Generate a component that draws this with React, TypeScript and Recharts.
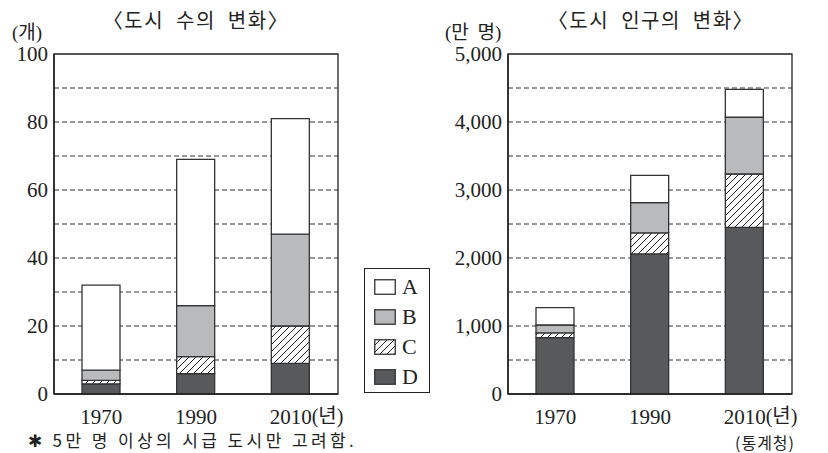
import { BarChart, Bar, XAxis, YAxis, CartesianGrid, ReferenceArea } from 'recharts'

const years = ['1970', '1990', '2010']

// 도시 수 (개)
const countA = [25, 43, 34]
const countB = [3, 15, 27]
const countC = [1, 5, 11]
const countD = [3, 6, 9]

// 도시 인구 (만 명)
const popA = [255, 400, 410]
const popB = [115, 445, 835]
const popC = [70, 310, 785]
const popD = [830, 2060, 2450]

const countTicks = [0, 20, 40, 60, 80, 100]
const countGrid = [10, 20, 30, 40, 50, 60, 70, 80, 90]
const popTicks = [0, 1000, 2000, 3000, 4000, 5000]
const popGrid = [500, 1000, 1500, 2000, 2500, 3000, 3500, 4000, 4500]

const legendKeys = ['A', 'B', 'C', 'D']

const fills: Record<string, string> = {
    A: '#ffffff',
    B: '#b9babb',
    C: 'url(#hatch)',
    D: '#58595b',
}

const countData = years.map((y, i) => ({ year: y, A: countA[i], B: countB[i], C: countC[i], D: countD[i] }))
const popData = years.map((y, i) => ({ year: y, A: popA[i], B: popB[i], C: popC[i], D: popD[i] }))

const ink = '#222'
const serif = '"Liberation Serif", "Noto Sans CJK KR", serif'
const sans = '"Noto Sans CJK KR", "Noto Sans", sans-serif'

function YearTick(props: any) {
    const { x, y, payload } = props
    const last = payload.value === years[years.length - 1]
    return (
        <g>
            <text x={x} y={y + 15} textAnchor="middle" dominantBaseline="central" fontFamily={serif} fontSize={21} fill={ink}>
                {payload.value}
            </text>
            {last && (
                <text x={x + 21} y={y + 14} textAnchor="start" dominantBaseline="central" fontFamily={serif} fontSize={20} fill={ink}>
                    (년)
                </text>
            )}
        </g>
    )
}

function stackBars() {
    return ['D', 'C', 'B', 'A'].map((k) => (
        <Bar key={k} dataKey={k} stackId="s" fill={fills[k]} stroke="#333" strokeWidth={1.3} barSize={38} isAnimationActive={false} />
    ))
}

const titleStyle = {
    position: 'absolute' as const,
    top: 9,
    width: 260,
    textAlign: 'center' as const,
    fontFamily: sans,
    fontSize: 20,
    lineHeight: '22px',
    letterSpacing: 1.5,
    wordSpacing: 6,
    whiteSpace: 'nowrap' as const,
}

export default function App() {
    return (
        <div style={{ position: 'absolute', left: 0, top: 0, width: 828, height: 453, background: '#fff', color: ink }}>
            <svg width={0} height={0} style={{ position: 'absolute' }}>
                <defs>
                    <pattern id="hatch" patternUnits="userSpaceOnUse" width={7} height={7}>
                        <rect width={7} height={7} fill="#fff" />
                        <path d="M0,7 L7,0 M-1,1 L1,-1 M6,8 L8,6" stroke="#222" strokeWidth={1} />
                    </pattern>
                </defs>
            </svg>

            <div style={{ ...titleStyle, left: 66 }}>〈도시 수의 변화〉</div>
            <div style={{ ...titleStyle, left: 521 }}>〈도시 인구의 변화〉</div>
            <div style={{ position: 'absolute', left: 12, top: 23, fontFamily: serif, fontSize: 19, lineHeight: '20px' }}>(개)</div>
            <div style={{ position: 'absolute', left: 445, top: 23, fontFamily: serif, fontSize: 19, lineHeight: '20px', wordSpacing: 4 }}>(만 명)</div>

            <div style={{ position: 'absolute', left: 0, top: 0 }}>
                <BarChart width={360} height={453} data={countData} margin={{ top: 54, right: 22, bottom: 29, left: 4 }}>
                    <CartesianGrid vertical={false} horizontalValues={countGrid} stroke="#333" strokeDasharray="5 3" />
                    <XAxis dataKey="year" height={30} tickLine={false} axisLine={{ stroke: ink, strokeWidth: 1.5 }} tick={<YearTick />} interval={0} />
                    <YAxis
                        width={50}
                        domain={[0, 100]}
                        ticks={countTicks}
                        tickLine={false}
                        axisLine={{ stroke: ink, strokeWidth: 1.5 }}
                        tick={{ fontFamily: serif, fontSize: 21, fill: ink }}
                        tickSize={4}
                    />
                    <ReferenceArea y1={0} y2={100} fill="none" stroke={ink} strokeWidth={1.3} />
                    {stackBars()}
                </BarChart>
            </div>

            <div style={{ position: 'absolute', left: 360, top: 0 }}>
                <BarChart width={468} height={453} data={popData} margin={{ top: 54, right: 36, bottom: 29, left: 78 }}>
                    <CartesianGrid vertical={false} horizontalValues={popGrid} stroke="#333" strokeDasharray="5 3" />
                    <XAxis dataKey="year" height={30} tickLine={false} axisLine={{ stroke: ink, strokeWidth: 1.5 }} tick={<YearTick />} interval={0} />
                    <YAxis
                        width={70}
                        domain={[0, 5000]}
                        ticks={popTicks}
                        tickLine={false}
                        axisLine={{ stroke: ink, strokeWidth: 1.5 }}
                        tick={{ fontFamily: serif, fontSize: 21, fill: ink }}
                        tickSize={4}
                        tickFormatter={(v) => v.toLocaleString('en-US')}
                    />
                    <ReferenceArea y1={0} y2={5000} fill="none" stroke={ink} strokeWidth={1.3} />
                    {stackBars()}
                </BarChart>
            </div>

            <div style={{ position: 'absolute', left: 364, top: 268, width: 64, height: 123, border: `1.5px solid ${ink}` }}>
                {legendKeys.map((k, i) => (
                    <div key={k} style={{ position: 'absolute', left: 9, top: 9 + i * 30, height: 18, display: 'flex', alignItems: 'center' }}>
                        <svg width={22} height={16}>
                            <rect x={0.75} y={0.75} width={20.5} height={14.5} fill={fills[k]} stroke="#333" strokeWidth={1.3} />
                        </svg>
                        <span style={{ marginLeft: 6, fontFamily: serif, fontSize: 22, lineHeight: '18px' }}>{k}</span>
                    </div>
                ))}
            </div>

            <div style={{ position: 'absolute', left: 28, top: 431, fontFamily: sans, fontSize: 17, lineHeight: '17px', letterSpacing: 3.4, whiteSpace: 'nowrap' }}>
                ✱ 5만 명 이상의 시급 도시만 고려함.
            </div>
            <div style={{ position: 'absolute', left: 735, top: 434, fontFamily: sans, fontSize: 16, lineHeight: '16px', letterSpacing: 1, whiteSpace: 'nowrap' }}>
                (통계청)
            </div>
        </div>
    )
}
